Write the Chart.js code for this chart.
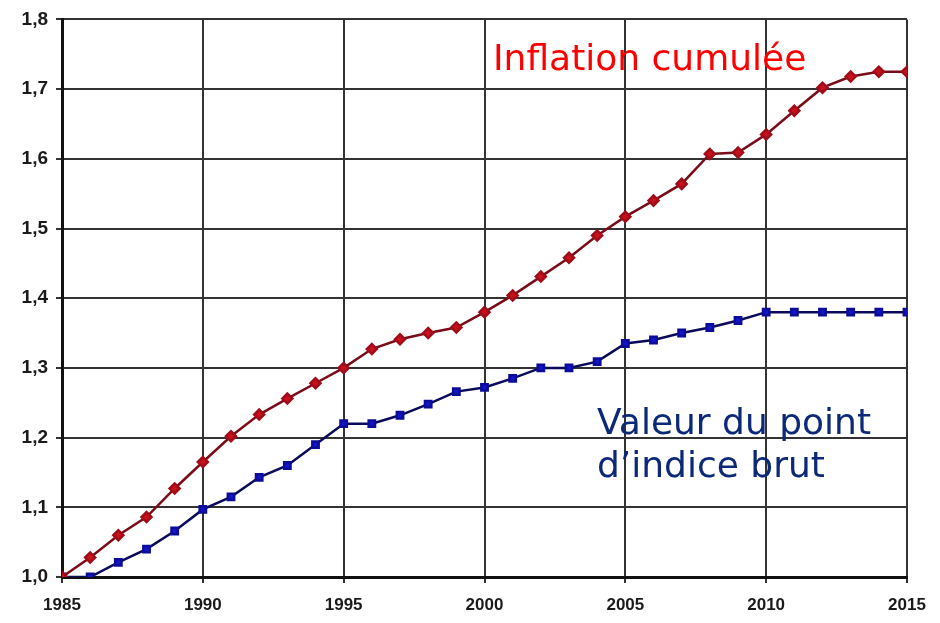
<!DOCTYPE html>
<html>
<head>
<meta charset="utf-8">
<script src="https://cdn.jsdelivr.net/npm/chart.js@4"></script>
<style>
  html, body { margin: 0; padding: 0; background: #fff; }
  #wrap { width: 940px; height: 623px; }
</style>
</head>
<body>
<div id="wrap"><canvas id="myChart" width="940" height="623"></canvas></div>
<script>
// === DATA ===
const years = [1985, 1986, 1987, 1988, 1989, 1990, 1991, 1992, 1993, 1994,
  1995, 1996, 1997, 1998, 1999, 2000, 2001, 2002, 2003, 2004,
  2005, 2006, 2007, 2008, 2009, 2010, 2011, 2012, 2013, 2014, 2015];

const inflation = [1.000, 1.028, 1.060, 1.086, 1.127, 1.165, 1.202, 1.233, 1.256, 1.278,
  1.300, 1.327, 1.341, 1.350, 1.358, 1.380, 1.404, 1.431, 1.458, 1.490,
  1.517, 1.540, 1.564, 1.607, 1.609, 1.635, 1.669, 1.702, 1.718, 1.725, 1.725];

const pointIndice = [1.000, 1.000, 1.021, 1.040, 1.066, 1.097, 1.115, 1.143, 1.160, 1.190,
  1.220, 1.220, 1.232, 1.248, 1.266, 1.272, 1.285, 1.300, 1.300, 1.309,
  1.335, 1.340, 1.350, 1.358, 1.368, 1.380, 1.380, 1.380, 1.380, 1.380, 1.380];

const xTicks = [1985, 1990, 1995, 2000, 2005, 2010, 2015];
const yTicks = [1.0, 1.1, 1.2, 1.3, 1.4, 1.5, 1.6, 1.7, 1.8];

const labelInflation = "Inflation cumulée";
const labelIndice = ["Valeur du point", "d\u2019indice brut"];

function toPoints(values) {
  return years.map((y, i) => ({ x: y, y: values[i] }));
}

// annotations dessinées par-dessus la grille
const textLabels = {
  id: "textLabels",
  afterDatasetsDraw(chart) {
    const c = chart.ctx;
    c.save();
    c.textBaseline = "alphabetic";
    c.textAlign = "left";
    c.font = "36px 'DejaVu Sans'";
    c.fillStyle = "#ff0000";
    c.fillText(labelInflation, 493, 70);
    c.fillStyle = "#0c2878";
    c.fillText(labelIndice[0], 597, 434);
    c.fillText(labelIndice[1], 597, 477);
    c.restore();
  }
};

const ctx = document.getElementById("myChart");

new Chart(ctx, {
  type: "line",
  data: {
    datasets: [
      {
        label: labelInflation,
        data: toPoints(inflation),
        borderColor: "#7a0c18",
        borderWidth: 2.5,
        backgroundColor: "#c8101e",
        pointBackgroundColor: "#c8101e",
        pointBorderColor: "#a00c18",
        pointStyle: "rectRot",
        pointRadius: 5,
        tension: 0,
      },
      {
        label: labelIndice.join(" "),
        data: toPoints(pointIndice),
        borderColor: "#0a0a5a",
        borderWidth: 2.5,
        backgroundColor: "#1414c8",
        pointBackgroundColor: "#1414c8",
        pointBorderColor: "#0c0c9a",
        pointStyle: "rect",
        pointRadius: 4.5,
        tension: 0,
      },
    ],
  },
  options: {
    responsive: false,
    animation: false,
    layout: { padding: { top: 19, right: 33, left: 0, bottom: 0 } },
    scales: {
      x: {
        type: "linear",
        min: 1985,
        max: 2015,
        afterFit: (s) => { s.height = 46; },
        afterBuildTicks: (s) => { s.ticks = xTicks.map(v => ({ value: v })); },
        border: { color: "#111", width: 3 },
        grid: { color: "#333", lineWidth: 2, tickLength: 6, tickColor: "#333" },
        ticks: {
          color: "#1a1a1a",
          font: { family: "'Liberation Sans Narrow', 'Liberation Sans', Arial", size: 17, weight: "bold" },
          padding: 12,
          maxRotation: 0,
          callback: (v) => String(v),
        },
      },
      y: {
        min: 1.0,
        max: 1.8,
        afterFit: (s) => { s.width = 62; },
        afterBuildTicks: (s) => { s.ticks = yTicks.map(v => ({ value: v })); },
        border: { color: "#111", width: 3 },
        grid: { color: "#333", lineWidth: 2, tickLength: 6, tickColor: "#333" },
        ticks: {
          color: "#1a1a1a",
          font: { family: "'Liberation Sans', Arial", size: 19, weight: "bold" },
          padding: 8,
          callback: (v) => Number(v).toFixed(1).replace(".", ","),
        },
      },
    },
    plugins: {
      legend: { display: false },
      tooltip: { enabled: false },
    },
  },
  plugins: [textLabels],
});
</script>
</body>
</html>
